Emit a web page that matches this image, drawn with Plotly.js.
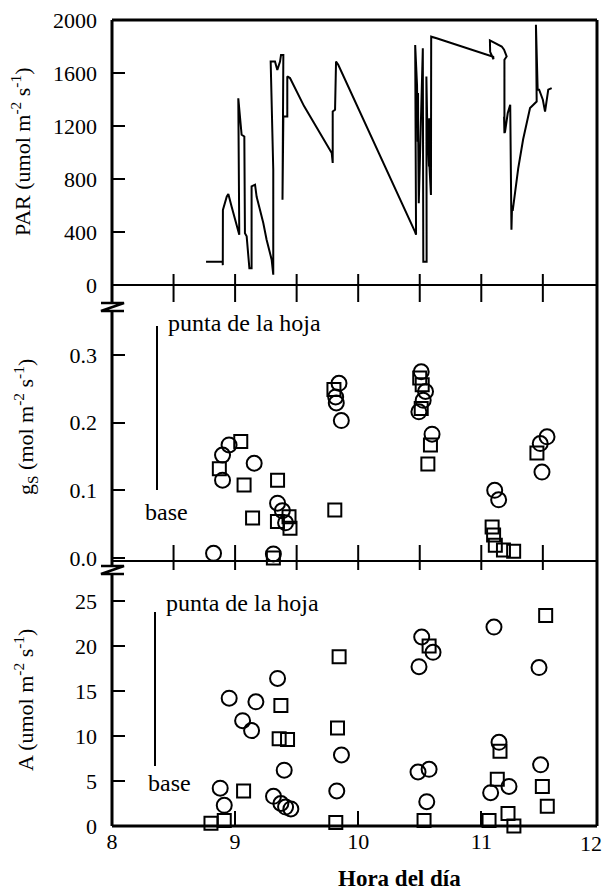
<!DOCTYPE html>
<html>
<head>
<meta charset="utf-8">
<script src="https://cdn.plot.ly/plotly-3.0.1.min.js"></script>
<style>html,body{margin:0;padding:0;background:#fff;}#chart{width:603px;height:892px;}</style>
</head>
<body>
<div id="chart"></div>
<script>
// ---- PAR (top panel) ----
const parTime = [8.764,8.899,8.900,8.901,8.932,8.945,8.972,8.999,9.018,9.034,9.026,9.040,9.053,9.075,9.080,9.094,9.116,9.134,9.134,9.162,9.175,9.202,9.229,9.256,9.283,9.297,9.310,9.310,9.289,9.324,9.343,9.365,9.373,9.392,9.385,9.388,9.385,9.392,9.424,9.424,9.446,9.560,9.785,9.793,9.793,9.812,9.820,9.838,10.461,10.470,10.463,10.478,10.484,10.486,10.488,10.492,10.525,10.529,10.556,10.554,10.556,10.558,10.560,10.575,10.577,10.579,10.591,10.593,10.637,11.097,11.099,11.072,11.070,11.085,11.166,11.185,11.206,11.188,11.188,11.185,11.192,11.205,11.215,11.235,11.245,11.250,11.255,11.300,11.340,11.396,11.420,11.450,11.444,11.452,11.458,11.470,11.500,11.518,11.530,11.544,11.572];
const parValue = [176,176,150,566,666,687,591,493,417,380,1409,1270,1134,1121,390,367,126,126,744,757,666,568,468,342,242,191,78,870,1686,1686,1623,1686,1736,1736,644,1272,818,1272,1272,1574,1562,1350,996,921,1310,1323,1686,1662,403,380,1811,1509,1082,1450,1082,617,1786,176,176,1574,1258,1574,1258,894,1258,894,679,1874,1862,1723,1704,1760,1846,1838,1800,1776,1725,1700,1145,1270,1150,1247,1298,1360,417,600,560,880,1100,1335,1360,1385,1964,1674,1474,1474,1398,1308,1398,1474,1486];

// ---- gs (middle panel) ----
const gsCircleTime  = [8.825,8.951,8.898,8.898,9.155,9.345,9.384,9.410,9.311,9.844,9.817,9.822,9.863,10.512,10.547,10.528,10.493,10.600,11.109,11.141,11.534,11.479,11.493];
const gsCircleValue = [0.007,0.167,0.152,0.115,0.140,0.081,0.070,0.052,0.006,0.258,0.238,0.229,0.203,0.275,0.246,0.233,0.216,0.183,0.100,0.086,0.179,0.169,0.127];
const gsSquareTime  = [9.046,8.872,9.073,9.345,9.142,9.344,9.438,9.446,9.311,9.810,9.803,10.500,10.520,10.512,10.587,10.566,11.088,11.100,11.114,11.180,11.263,11.452];
const gsSquareValue = [0.172,0.132,0.108,0.115,0.059,0.054,0.061,0.044,0.000,0.071,0.249,0.266,0.256,0.221,0.167,0.139,0.046,0.034,0.019,0.012,0.010,0.155];

// ---- A (bottom panel) ----
const aCircleTime  = [8.952,9.169,9.061,9.134,8.879,8.912,9.345,9.399,9.312,9.372,9.410,9.453,9.864,9.826,10.516,10.608,10.494,10.486,10.576,10.557,11.103,11.144,11.225,11.076,11.469,11.482];
const aCircleValue = [14.2,13.8,11.7,10.6,4.2,2.3,16.4,6.2,3.3,2.5,2.1,1.9,7.9,3.9,21.0,19.3,17.7,6.0,6.3,2.7,22.1,9.3,4.4,3.7,17.6,6.8];
const aSquareTime  = [9.069,8.804,8.912,9.372,9.358,9.426,9.845,9.832,9.818,10.576,10.535,11.152,11.130,11.217,11.063,11.265,11.523,11.496,11.536];
const aSquareValue = [3.9,0.3,0.6,13.4,9.7,9.6,18.8,10.9,0.4,20.0,0.6,8.3,5.2,1.4,0.6,0.0,23.4,4.4,2.2];

// ---- ticks ----
const parTicks = [0,400,800,1200,1600,2000];
const gsTicks = [0,0.1,0.2,0.3];
const gsTickText = ['0.0','0.1','0.2','0.3'];
const aTicks = [0,5,10,15,20,25];
const hourTicks = [8,9,10,11];
const halfHourTicks = [8.5,9,9.5,10,10.5,11,11.5];

// ---- pixel geometry helpers ----
const L = 112, R = 597, T = 20, B = 826;
const px = x => (x - L) / (R - L);
const py = y => (B - y) / (B - T);

const FONT = '"Liberation Serif", serif';
const tickFont = {family: FONT, size: 22, color: '#000'};

const xBase = {range: [8, 11.94], showgrid: false, zeroline: false, showline: false, fixedrange: true};
const yBase = {showgrid: false, zeroline: false, showline: false, ticks: 'inside', ticklen: 13, tickwidth: 2,
  tickcolor: '#000', tickfont: tickFont, ticklabelstandoff: 14, fixedrange: true};

const mk = (sym, size) => ({symbol: sym, size: size, color: '#000', line: {color: '#000', width: 2}});

const traces = [
  {x: parTime, y: parValue, xaxis: 'x', yaxis: 'y', mode: 'lines', line: {color: '#000', width: 2}, hoverinfo: 'skip'},
  {x: gsCircleTime, y: gsCircleValue, xaxis: 'x2', yaxis: 'y2', mode: 'markers', marker: mk('circle-open', 15), cliponaxis: false},
  {x: gsSquareTime, y: gsSquareValue, xaxis: 'x2', yaxis: 'y2', mode: 'markers', marker: mk('square-open', 13), cliponaxis: false},
  {x: aCircleTime, y: aCircleValue, xaxis: 'x3', yaxis: 'y3', mode: 'markers', marker: mk('circle-open', 15), cliponaxis: false},
  {x: aSquareTime, y: aSquareValue, xaxis: 'x3', yaxis: 'y3', mode: 'markers', marker: mk('square-open', 13), cliponaxis: false}
];

const line = (x0, y0, x1, y1, w, xref) => ({type: 'line', xref: xref || 'paper', yref: 'paper', x0, y0, x1, y1, line: {color: '#000', width: w}});

const shapes = [
  line(0, 0, 0, 1, 3), line(1, 0, 1, 1, 3), line(0, 1, 1, 1, 3), line(0, 0, 1, 0, 3),
  line(0, py(285), 1, py(285), 2), line(0, py(561), 1, py(561), 2),
  line(px(157), py(326), px(157), py(490), 2), line(px(155), py(612), px(155), py(766), 2)
];
halfHourTicks.forEach(v => {
  shapes.push(line(v, py(274), v, py(302), 2, 'x'));
  shapes.push(line(v, py(545), v, py(570), 2, 'x'));
});
[307, 570].forEach(yc => {
  shapes.push({type: 'rect', xref: 'paper', yref: 'paper', x0: px(108), x1: px(117), y0: py(yc + 3), y1: py(yc - 3), fillcolor: '#fff', line: {width: 0}});
  shapes.push({type: 'path', xref: 'paper', yref: 'paper',
    path: `M ${px(101)} ${py(yc - 4)} L ${px(124)} ${py(yc - 4)} L ${px(101)} ${py(yc + 4)} L ${px(124)} ${py(yc + 4)}`,
    line: {color: '#000', width: 2.5}});
});

const txt = (text, x, y, opts) => Object.assign({text, xref: 'paper', yref: 'paper', x: px(x), y: py(y),
  showarrow: false, font: {family: FONT, size: 24, color: '#000'}, xanchor: 'left', yanchor: 'middle'}, opts || {});

const titleFont = {family: FONT, size: 22, color: '#000'};
const annotations = [
  txt('punta de la hoja', 166, 323),
  txt('base', 143, 512),
  txt('punta de la hoja', 164, 603),
  txt('base', 146, 783),
  txt('PAR (umol m<sup>-2</sup> s<sup>-1</sup>)', 21, 152, {textangle: -90, xanchor: 'center', font: titleFont}),
  txt('g<sub>S</sub> (mol m<sup>-2</sup> s<sup>-1</sup>)', 25, 427, {textangle: -90, xanchor: 'center', font: titleFont}),
  txt('A (umol m<sup>-2</sup> s<sup>-1</sup>)', 24, 700, {textangle: -90, xanchor: 'center', font: titleFont}),
  txt('<b>Hora del día</b>', 399, 878, {xanchor: 'center', font: {family: FONT, size: 23, color: '#000'}}),
  txt('12', 591, 843, {xanchor: 'center', font: tickFont})
];

const layout = {
  width: 603, height: 892,
  margin: {l: L, r: 603 - R, t: T, b: 892 - B, pad: 0},
  paper_bgcolor: '#fff', plot_bgcolor: '#fff', showlegend: false,
  font: {family: FONT, color: '#000'},
  xaxis: Object.assign({}, xBase, {anchor: 'y', showticklabels: false, ticks: ''}),
  xaxis2: Object.assign({}, xBase, {anchor: 'y2', showticklabels: false, ticks: ''}),
  xaxis3: Object.assign({}, xBase, {anchor: 'y3', tickvals: hourTicks, ticks: 'inside', ticklen: 15, tickwidth: 2, tickcolor: '#000', tickfont: tickFont}),
  yaxis: Object.assign({}, yBase, {anchor: 'x', domain: [py(285), 1], range: [0, 2000], tickvals: parTicks}),
  yaxis2: Object.assign({}, yBase, {anchor: 'x2', domain: [py(561), py(285)], range: [-0.0044, 0.4033], tickvals: gsTicks, ticktext: gsTickText}),
  yaxis3: Object.assign({}, yBase, {anchor: 'x3', domain: [0, py(575)], range: [0, 27.89], tickvals: aTicks}),
  shapes, annotations
};

Plotly.newPlot('chart', traces, layout, {displayModeBar: false, staticPlot: true});
</script>
</body>
</html>
